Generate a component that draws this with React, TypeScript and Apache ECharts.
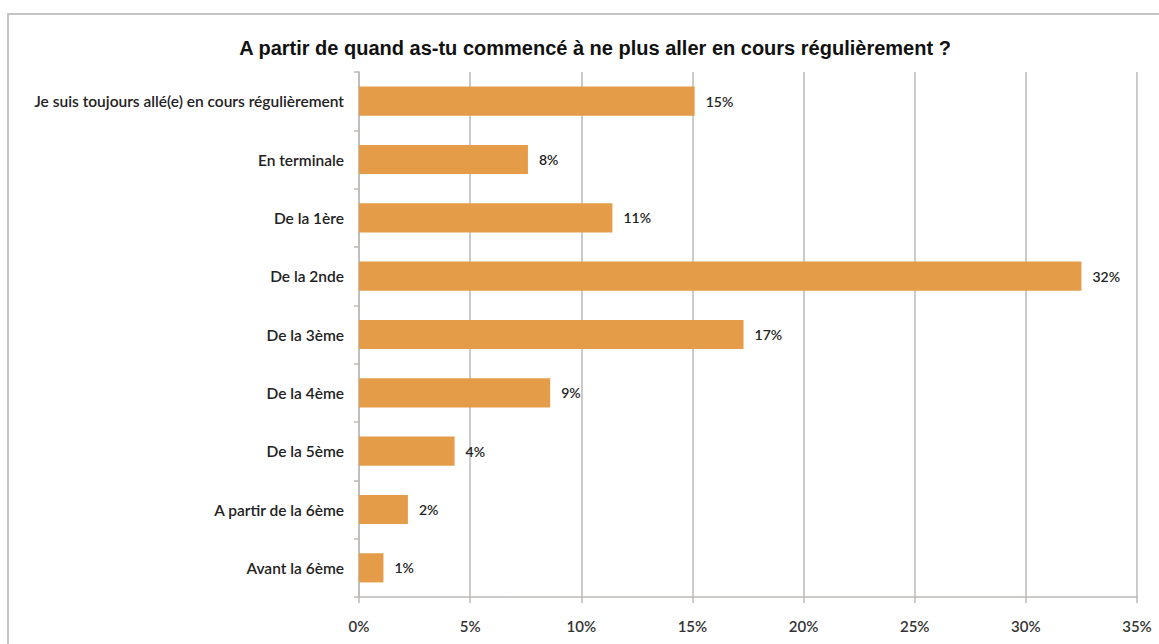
import React, { useEffect, useRef } from "react";
import * as echarts from "echarts";

const categories = [
  "Je suis toujours allé(e) en cours régulièrement",
  "En terminale",
  "De la 1ère",
  "De la 2nde",
  "De la 3ème",
  "De la 4ème",
  "De la 5ème",
  "A partir de la 6ème",
  "Avant la 6ème",
];
const values = [15.1, 7.6, 11.4, 32.5, 17.3, 8.6, 4.3, 2.2, 1.1];
const valueLabels = ["15%", "8%", "11%", "32%", "17%", "9%", "4%", "2%", "1%"];
const title = "A partir de quand as-tu commencé à ne plus aller en cours régulièrement ?";

export default function App() {
  const ref = useRef<HTMLDivElement>(null);
  useEffect(() => {
    if (!ref.current) return;
    const chart = echarts.init(ref.current, null, { renderer: "svg" });
    const font = "Lato, 'Open Sans', sans-serif";
    chart.setOption({
      animation: false,
      backgroundColor: "#ffffff",
      title: {
        text: title,
        left: 590,
        textAlign: "center",
        top: 33,
        textStyle: { fontFamily: "'Liberation Sans', Arial, sans-serif", fontSize: 20, fontWeight: "bold", color: "#111" },
      },
      graphic: [
        {
          type: "rect",
          shape: { x: 8, y: 14, width: 1160, height: 640 },
          style: { fill: "none", stroke: "#c8c4c4", lineWidth: 2 },
          silent: true,
        },
      ],
      grid: { left: 359, right: 22, top: 72, bottom: 47 },
      xAxis: {
        type: "value",
        min: 0,
        max: 35,
        interval: 5,
        axisLine: { show: true, lineStyle: { color: "#bdb8b6", width: 1.5 } },
        axisTick: { show: true, length: 6, lineStyle: { color: "#bdb8b6", width: 1.5 } },
        splitLine: { show: true, lineStyle: { color: "#bdb8b6", width: 1.5 } },
        axisLabel: {
          formatter: (v: number) => v + "%",
          fontFamily: font,
          fontSize: 15,
          color: "#333",
          margin: 21,
          fontWeight: 600,
        },
      },
      yAxis: {
        type: "category",
        inverse: true,
        data: categories,
        axisLine: { show: true, lineStyle: { color: "#bdb8b6", width: 1.5 } },
        axisTick: { show: true, length: 5, lineStyle: { color: "#bdb8b6", width: 1.5 } },
        axisLabel: { fontFamily: font, fontSize: 15.5, color: "#222", margin: 15, fontWeight: 600 },
      },
      series: [
        {
          type: "bar",
          data: values,
          barWidth: "50%",
          itemStyle: { color: "#e49c48" },
          label: {
            show: true,
            position: "right",
            distance: 11,
            formatter: (p: any) => valueLabels[p.dataIndex],
            fontFamily: font,
            fontSize: 14,
            fontWeight: 600,
            color: "#222",
          },
        },
      ],
    });
    return () => chart.dispose();
  }, []);
  return <div ref={ref} style={{ width: 1159, height: 644, position: "absolute", left: 0, top: 0 }} />;
}
